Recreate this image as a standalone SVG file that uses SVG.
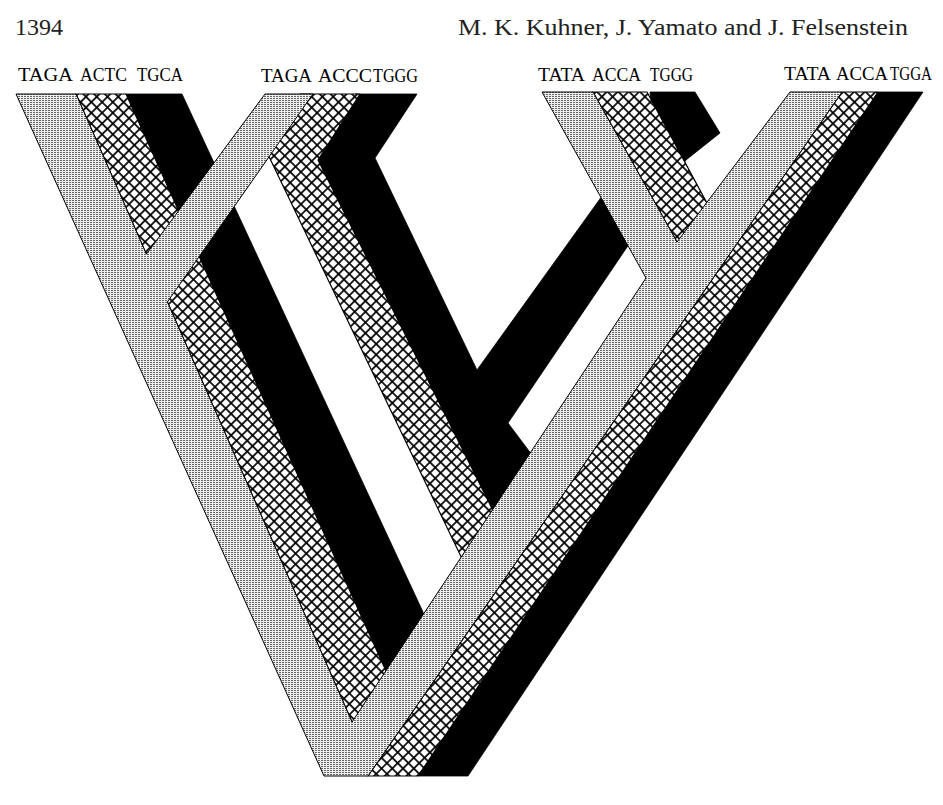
<svg xmlns="http://www.w3.org/2000/svg" width="943" height="805" viewBox="0 0 943 805">
<defs>
<pattern id="stip" width="3" height="2" patternUnits="userSpaceOnUse"><rect width="3" height="2" fill="#eeeeee"/><rect width="2" height="1" fill="#666666"/></pattern>
<pattern id="hatch" width="7.6" height="7.6" patternUnits="userSpaceOnUse" patternTransform="rotate(45)"><rect width="7.6" height="7.6" fill="#000"/><rect x="0.85" y="0.85" width="5.9" height="5.9" fill="#fff"/></pattern>
<style>
.blk{fill:#000;stroke:#000;stroke-width:0.8;stroke-linejoin:round}
.hat{fill:url(#hatch);stroke:#000;stroke-width:1.2;stroke-linejoin:round}
.stp{fill:url(#stip);stroke:#000;stroke-width:1;stroke-linejoin:round}
.hdr{font-family:"Liberation Serif","Times New Roman",serif;font-size:24px;fill:#222}
.lbl{font-family:"Liberation Serif","Times New Roman",serif;font-size:19.5px;fill:#000}
</style>
</defs>
<rect width="943" height="805" fill="#fff"/>
<g id="header">
<text class="hdr" x="15" y="35" textLength="48" lengthAdjust="spacingAndGlyphs">1394</text>
<text class="hdr" x="458" y="35" textLength="450" lengthAdjust="spacingAndGlyphs">M. K. Kuhner, J. Yamato and J. Felsenstein</text>
</g>
<g id="layer-black">
<polygon id="black-1" class="blk" points="126,94 182,94 423,612 430,640 392,682 386,671"/>
<polygon id="black-2-3" class="blk" points="355,94 417,94 375,158 477,370 600.8,197.7 655,150 650,92 695,92 720,133 686,160 508,423 530.5,453 535,470 495,515 490,515 315,160"/>
<polygon id="black-4" class="blk" points="878,92 923,92 468,776 418,776"/>
</g>
<g id="layer-crosshatch">
<polygon id="hatch-1" class="hat" points="76,94 126,94 386,671 392,682 358,726 352,722"/>
<polygon id="hatch-2" class="hat" points="300,94 360,94 318,160 493.1,510.7 510,530 470,570 461.2,557.1 269.2,157.1 262,158"/>
<polygon id="hatch-3" class="hat" points="593,92 647,92 706.7,202.6 695,235 677,242"/>
<polygon id="hatch-4" class="hat" points="842,92 878,92 418,776 368,776"/>
</g>
<g id="layer-stipple">
<polygon id="stipple-tree" class="stp" points="16,94 76,94 146.4,254.2 265,94 313,94 167.4,302 352,722 646,278 542,92 593,92 677,242 790,92 842,92 368,776 324,776"/>
</g>
<g id="labels">
<text class="lbl" x="18" y="81" textLength="55" lengthAdjust="spacingAndGlyphs">TAGA</text>
<text class="lbl" x="80" y="81" textLength="47" lengthAdjust="spacingAndGlyphs">ACTC</text>
<text class="lbl" x="137" y="81" textLength="46" lengthAdjust="spacingAndGlyphs">TGCA</text>
<text class="lbl" x="261" y="82" textLength="51" lengthAdjust="spacingAndGlyphs">TAGA</text>
<text class="lbl" x="318" y="82" textLength="54" lengthAdjust="spacingAndGlyphs">ACCC</text>
<text class="lbl" x="373" y="82" textLength="45" lengthAdjust="spacingAndGlyphs">TGGG</text>
<text class="lbl" x="538" y="81" textLength="47" lengthAdjust="spacingAndGlyphs">TATA</text>
<text class="lbl" x="592" y="81" textLength="49" lengthAdjust="spacingAndGlyphs">ACCA</text>
<text class="lbl" x="650" y="81" textLength="43" lengthAdjust="spacingAndGlyphs">TGGG</text>
<text class="lbl" x="784" y="80" textLength="47" lengthAdjust="spacingAndGlyphs">TATA</text>
<text class="lbl" x="836" y="80" textLength="52" lengthAdjust="spacingAndGlyphs">ACCA</text>
<text class="lbl" x="890" y="80" textLength="42" lengthAdjust="spacingAndGlyphs">TGGA</text>
</g>
</svg>
